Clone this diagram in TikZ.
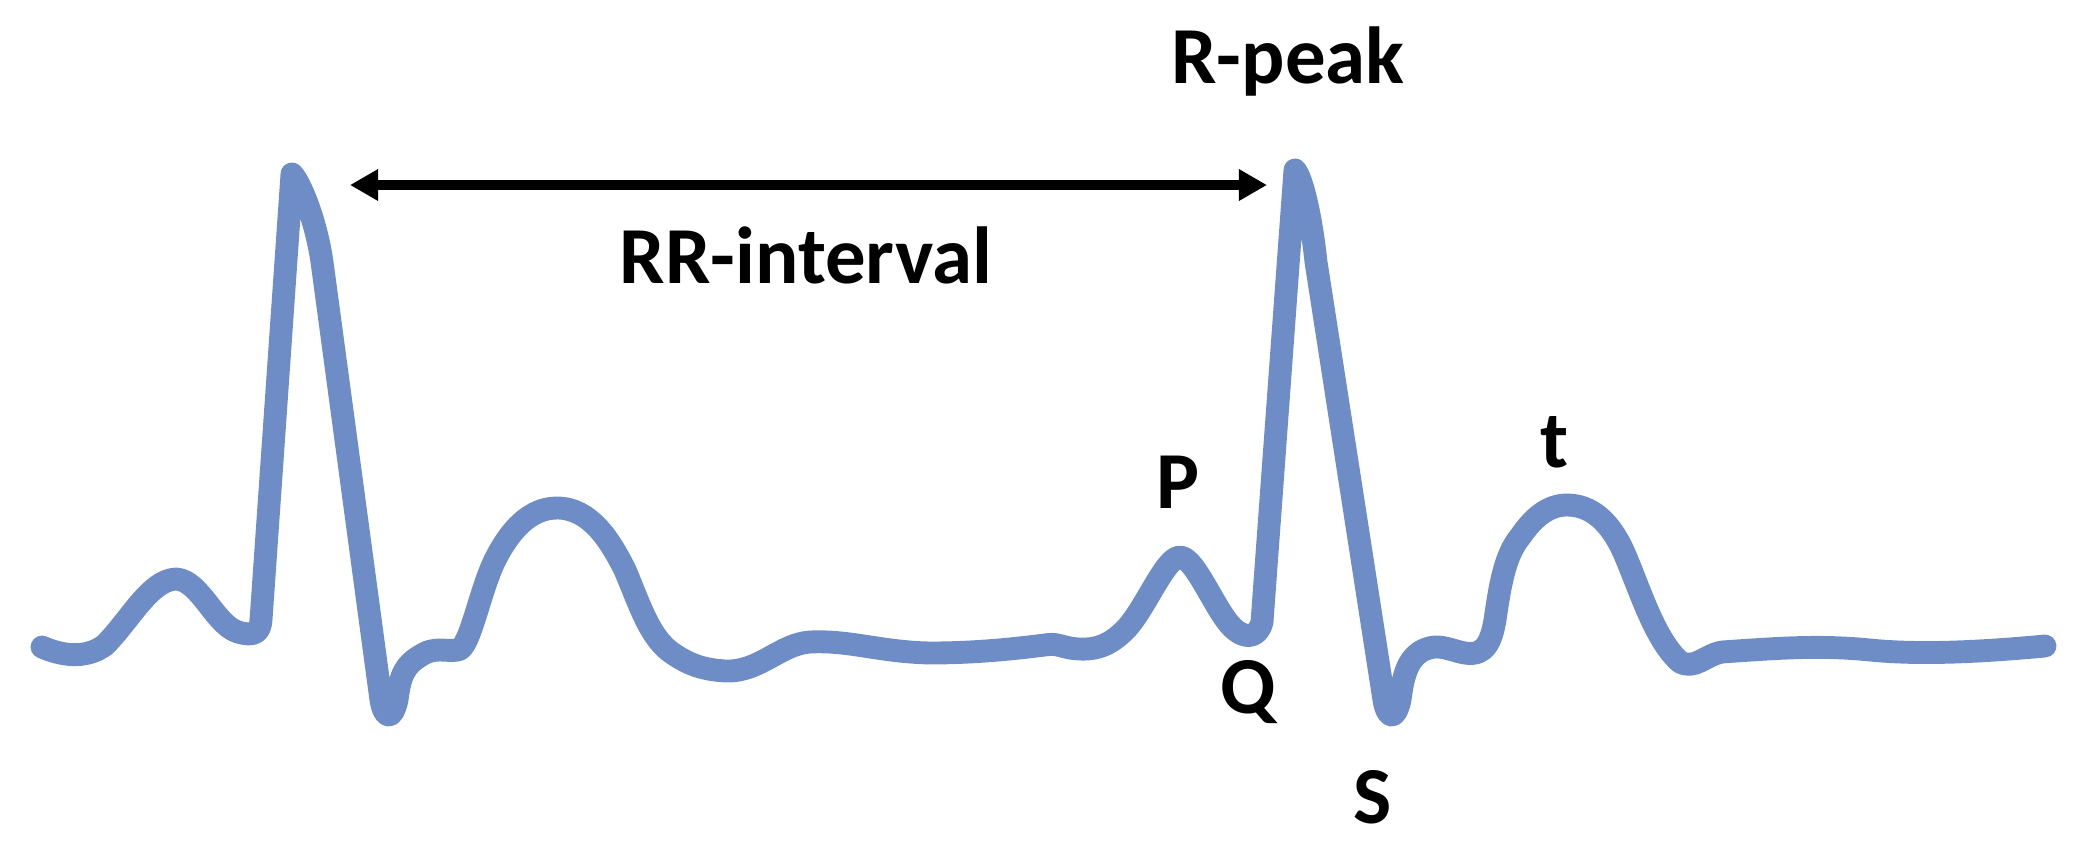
\documentclass[tikz,border=0pt]{standalone}
\usepackage{fontspec}
\setmainfont{Carlito}
\usetikzlibrary{arrows.meta}
\definecolor{ecgblue}{RGB}{110,140,198}
\begin{document}
\begin{tikzpicture}[x=0.01cm,y=-0.01cm,
  ecg/.style={draw=ecgblue,line width=6.5pt,line join=round,line cap=round},
  lbl/.style={font=\fontsize{23}{28}\selectfont\bfseries,anchor=base,inner sep=0pt,text=black},
  rrarrow/.style={draw=black,line width=2.8pt,{Triangle[length=8pt,width=8.5pt]}-{Triangle[length=8pt,width=8.5pt]}}]
\useasboundingbox (0,0) rectangle (2099,860);
% ECG trace
\path[ecg] (42,647) .. controls (60,655) and (85,660) .. (105,645)
  .. controls (130,620) and (150,580) .. (176,579)
  .. controls (200,580) and (215,625) .. (238,632)
  .. controls (255,637) and (260,632) .. (261,620)
  -- (292,174) .. controls (300,182) and (316,220) .. (322,262) -- (381,700)
  .. controls (384,718) and (392,722) .. (397,700)
  .. controls (400,675) and (405,665) .. (420,656)
  .. controls (435,646) and (445,652) .. (458,650)
  .. controls (470,648) and (480,590) .. (495,560)
  .. controls (510,530) and (530,508) .. (557,508)
  .. controls (590,508) and (610,540) .. (625,570)
  .. controls (640,605) and (650,640) .. (675,655)
  .. controls (690,665) and (705,670) .. (726,671)
  .. controls (760,672) and (780,644) .. (810,642)
  .. controls (850,640) and (880,652) .. (930,653)
  .. controls (980,653) and (1020,648) .. (1045,645)
  .. controls (1055,643) and (1060,646) .. (1070,648)
  .. controls (1095,652) and (1110,645) .. (1125,630)
  .. controls (1145,610) and (1165,557) .. (1180,557)
  .. controls (1195,557) and (1215,610) .. (1232,627)
  .. controls (1245,640) and (1258,638) .. (1262,622)
  -- (1295,170) .. controls (1302,178) and (1311,215) .. (1316,262) -- (1384,700)
  .. controls (1387,718) and (1395,722) .. (1400,700)
  .. controls (1403,675) and (1408,660) .. (1420,652)
  .. controls (1435,643) and (1445,648) .. (1460,652)
  .. controls (1480,657) and (1490,650) .. (1495,620)
  .. controls (1500,585) and (1505,555) .. (1520,537)
  .. controls (1535,515) and (1550,505) .. (1567,505)
  .. controls (1590,505) and (1610,520) .. (1625,555)
  .. controls (1640,590) and (1655,640) .. (1680,662)
  .. controls (1695,670) and (1705,655) .. (1722,652)
  .. controls (1780,648) and (1820,645) .. (1870,650)
  .. controls (1920,655) and (1980,652) .. (2045,646);
% RR interval arrow
\coordinate (rrL) at (350,185);
\coordinate (rrR) at (1267,185);
\draw[rrarrow] (rrL) -- (rrR);
% labels
\node[lbl] (rpeak) at (1288,83) {R-peak};
\node[lbl] (rrint) at (806,283) {RR-interval};
\node[lbl] (pl) at (1178,508) {P};
\node[lbl] (ql) at (1248,713) {Q};
\node[lbl] (sl) at (1373,823) {S};
\node[lbl] (tl) at (1555,467) {t};
\end{tikzpicture}
\end{document}
